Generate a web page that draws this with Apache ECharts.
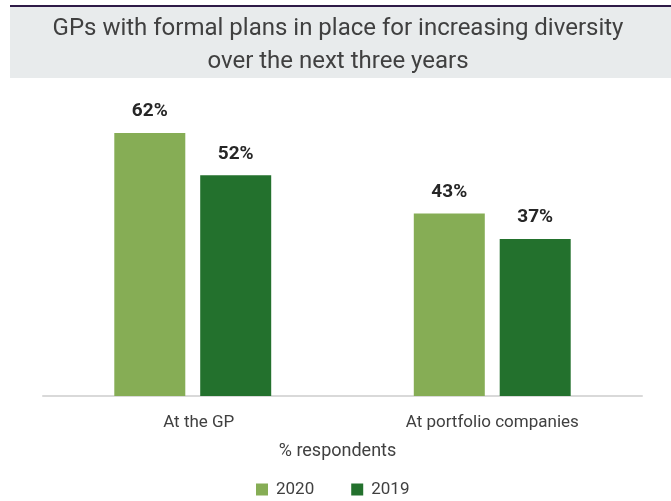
<!DOCTYPE html>
<html>
<head>
<meta charset="utf-8">
<script src="https://cdn.jsdelivr.net/npm/echarts@6/dist/echarts.min.js"></script>
<style>
  html, body { margin: 0; padding: 0; background: #ffffff; }
  #chart { width: 671px; height: 501px; }
</style>
</head>
<body>
<div id="chart"></div>
<script>
// Share of GPs with formal diversity plans, by scope and survey year
const categories = ['At the GP', 'At portfolio companies'];
const seriesNames = ['2020', '2019'];
const values2020 = [62, 43];
const values2019 = [52, 37];
const titleLines = ['GPs with formal plans in place for increasing diversity', 'over the next three years'];
const axisName = '% respondents';

const FONT = 'Roboto, "Liberation Sans", sans-serif';
const TEXT_GRAY = '#404040';
const colors = ['#86ad55', '#23712d'];

const chart = echarts.init(document.getElementById('chart'), null, { renderer: 'canvas' });

const valueLabel = {
  show: true,
  position: 'top',
  distance: 12,
  formatter: '{c}%',
  fontFamily: FONT,
  fontWeight: 'bold',
  fontSize: 19,
  color: '#262626'
};

chart.setOption({
  backgroundColor: '#ffffff',
  animation: false,
  graphic: [
    { type: 'rect', shape: { x: 10, y: 7, width: 661, height: 71 }, style: { fill: '#e8ebec' }, z: -10 },
    { type: 'rect', shape: { x: 10, y: 5, width: 661, height: 2 }, style: { fill: '#2e1a47' }, z: -9 }
  ],
  title: {
    text: titleLines.join('\n'),
    left: 333,
    top: 7,
    textAlign: 'center',
    textStyle: {
      fontFamily: FONT,
      fontWeight: 'normal',
      fontSize: 24,
      lineHeight: 33,
      color: TEXT_GRAY
    }
  },
  legend: {
    data: seriesNames,
    left: 251,
    top: 476,
    icon: 'rect',
    itemWidth: 12,
    itemHeight: 12,
    itemGap: 37,
    textStyle: { fontFamily: FONT, fontSize: 17, color: TEXT_GRAY, padding: [0, 0, 0, 3] }
  },
  grid: { left: 43, right: 29, top: 99, bottom: 105 },
  xAxis: {
    type: 'category',
    data: categories,
    name: axisName,
    nameLocation: 'middle',
    nameGap: 46,
    nameTextStyle: { fontFamily: FONT, fontSize: 18, color: TEXT_GRAY, padding: [0, 10, 0, 0] },
    axisLine: { show: true, lineStyle: { color: '#d9d9d9', width: 2 } },
    axisTick: { show: false },
    axisLabel: {
      margin: 18,
      fontFamily: FONT,
      fontSize: 17,
      color: TEXT_GRAY,
      formatter: function (value, index) {
        return index === 0 ? '{first|' + value + '}' : value;
      },
      rich: {
        first: { fontFamily: FONT, fontSize: 17, color: TEXT_GRAY, padding: [0, 0, 0, 12] }
      }
    }
  },
  yAxis: {
    type: 'value',
    min: 0,
    max: 70,
    show: false,
    splitLine: { show: false }
  },
  series: [
    {
      name: seriesNames[0],
      type: 'bar',
      data: values2020,
      barWidth: 71,
      barGap: '21%',
      itemStyle: { color: colors[0] },
      label: valueLabel
    },
    {
      name: seriesNames[1],
      type: 'bar',
      data: values2019,
      barWidth: 71,
      barGap: '21%',
      itemStyle: { color: colors[1] },
      label: valueLabel
    }
  ]
});
</script>
</body>
</html>
